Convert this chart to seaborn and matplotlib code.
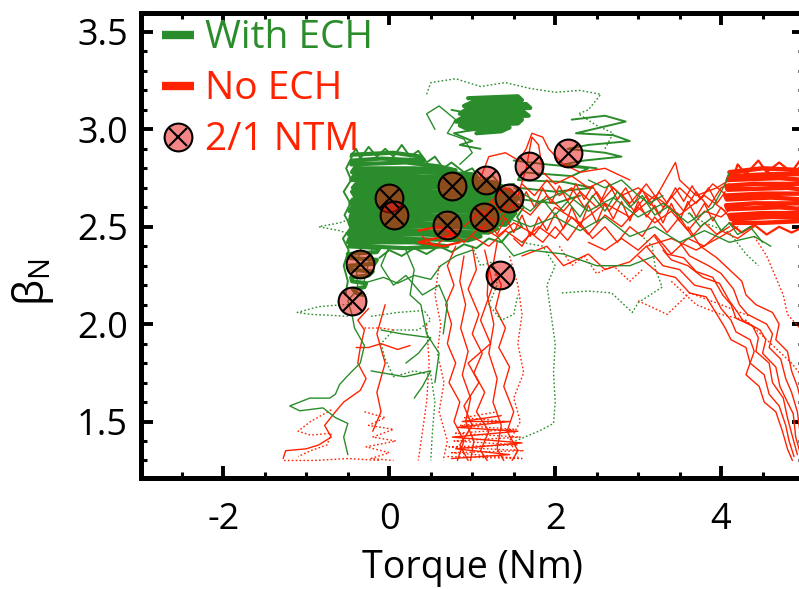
import matplotlib
matplotlib.use("Agg")
import matplotlib.pyplot as plt
from matplotlib.lines import Line2D
from matplotlib.ticker import MultipleLocator
import pandas as pd
import seaborn as sns

GREEN = "#2A8C2A"
RED = "#FF2200"

# ---------------- data ----------------
ntm_torque = [0.00, 0.06, 0.75, 0.70, 1.17, 1.14, 1.44, 1.68, 2.15, 1.34, -0.35, -0.45]
ntm_beta = [2.65, 2.56, 2.71, 2.51, 2.74, 2.55, 2.65, 2.81, 2.88, 2.25, 2.31, 2.12]

x_ticks = [-2, 0, 2, 4]
y_ticks = [1.5, 2.0, 2.5, 3.0, 3.5]

# dense "With ECH" regions
green_fill_main = [(-0.45, 2.87), (0.05, 2.88), (0.38, 2.86), (0.42, 2.84), (-0.10, 2.85), (-0.44, 2.84),
                   (-0.46, 2.82), (0.20, 2.83), (0.60, 2.81), (0.80, 2.79), (0.30, 2.80), (-0.42, 2.80),
                   (-0.45, 2.78), (0.40, 2.78), (1.00, 2.77), (1.05, 2.75), (0.20, 2.76), (-0.43, 2.76),
                   (-0.46, 2.74), (0.50, 2.74), (1.25, 2.73), (1.35, 2.71), (0.40, 2.72), (-0.40, 2.72),
                   (-0.44, 2.70), (0.60, 2.70), (1.45, 2.69), (1.50, 2.67), (0.30, 2.68), (-0.45, 2.68),
                   (-0.42, 2.66), (0.70, 2.66), (1.55, 2.65), (1.52, 2.63), (0.50, 2.64), (-0.44, 2.64),
                   (-0.47, 2.62), (0.40, 2.62), (1.55, 2.61), (1.50, 2.59), (0.20, 2.60), (-0.45, 2.60),
                   (-0.48, 2.58), (0.60, 2.58), (1.52, 2.57), (1.48, 2.55), (0.30, 2.56), (-0.46, 2.56),
                   (-0.47, 2.54), (0.50, 2.54), (1.45, 2.53), (1.40, 2.51), (0.20, 2.52), (-0.48, 2.52),
                   (-0.46, 2.50), (0.60, 2.50), (1.30, 2.49), (1.20, 2.47), (0.10, 2.48), (-0.47, 2.48),
                   (-0.49, 2.46), (0.40, 2.46), (1.10, 2.45), (0.95, 2.43), (0.00, 2.44), (-0.48, 2.44),
                   (-0.50, 2.42), (0.30, 2.42), (0.70, 2.40), (0.20, 2.39), (-0.30, 2.40), (-0.48, 2.40)]
green_fill_lobe = [(-0.48, 2.40), (-0.12, 2.39), (-0.15, 2.37), (-0.50, 2.36), (-0.49, 2.34), (-0.15, 2.33),
                   (-0.18, 2.31), (-0.48, 2.30), (-0.47, 2.28), (-0.20, 2.27), (-0.25, 2.25), (-0.46, 2.24),
                   (-0.45, 2.22), (-0.28, 2.21), (-0.30, 2.19), (-0.44, 2.18), (-0.40, 2.16), (-0.32, 2.15)]
green_fill_upper = [(0.95, 3.16), (1.55, 3.17), (1.60, 3.15), (1.00, 3.14), (0.90, 3.12), (1.65, 3.13),
                    (1.70, 3.11), (0.92, 3.10), (0.85, 3.08), (1.62, 3.09), (1.68, 3.07), (0.88, 3.06),
                    (0.80, 3.04), (1.60, 3.05), (1.55, 3.03), (0.85, 3.02), (0.95, 3.00), (1.45, 3.01),
                    (1.35, 2.99), (1.05, 2.98)]
# dense "No ECH" region on the right
red_fill_right = [(4.10, 2.78), (4.50, 2.80), (5.00, 2.79), (5.00, 2.77), (4.60, 2.77), (4.10, 2.76),
                  (4.08, 2.74), (4.70, 2.75), (5.00, 2.74), (5.00, 2.72), (4.40, 2.72), (4.06, 2.71),
                  (4.08, 2.69), (4.80, 2.70), (5.00, 2.69), (5.00, 2.67), (4.50, 2.67), (4.05, 2.66),
                  (4.07, 2.64), (4.60, 2.65), (5.00, 2.64), (5.00, 2.62), (4.40, 2.62), (4.06, 2.61),
                  (4.08, 2.59), (4.70, 2.60), (5.00, 2.59), (5.00, 2.57), (4.50, 2.57), (4.10, 2.56),
                  (4.12, 2.54), (4.60, 2.55), (5.00, 2.55), (5.00, 2.53), (4.50, 2.52), (4.15, 2.52)]

# medium-density traces
green_medium = [
    [(2.20, 3.05), (2.60, 3.07), (2.85, 3.04), (2.45, 3.00), (2.25, 2.98), (2.70, 2.97), (2.90, 2.94),
     (2.40, 2.92), (2.15, 2.90), (2.60, 2.88), (2.80, 2.86), (2.35, 2.84), (2.10, 2.82), (2.50, 2.80)],
    [(1.50, 2.84), (1.90, 2.82), (2.40, 2.80), (2.20, 2.76), (1.60, 2.78), (1.55, 2.74), (2.10, 2.73),
     (2.45, 2.70), (2.00, 2.68), (1.55, 2.70), (1.60, 2.64), (2.00, 2.62), (2.30, 2.66)],
    [(0.75, 3.10), (1.00, 3.08), (0.80, 3.04), (1.05, 3.00), (0.78, 2.98), (1.00, 2.94), (0.85, 2.92),
     (1.10, 2.90)],
    [(-0.47, 2.86), (-0.40, 2.90), (-0.35, 2.85), (-0.25, 2.91), (-0.15, 2.86), (-0.05, 2.90), (0.05, 2.86),
     (0.15, 2.92), (0.25, 2.86), (0.35, 2.89), (0.45, 2.83), (0.55, 2.86), (0.65, 2.80), (0.75, 2.83),
     (0.90, 2.78), (1.00, 2.80), (1.10, 2.74), (1.25, 2.76), (1.35, 2.71), (1.50, 2.72), (1.60, 2.66)],
    [(-0.45, 2.86), (-0.52, 2.80), (-0.46, 2.74), (-0.55, 2.68), (-0.47, 2.62), (-0.54, 2.56), (-0.46, 2.50),
     (-0.56, 2.44), (-0.49, 2.38), (-0.55, 2.30), (-0.50, 2.22), (-0.53, 2.15)],
    [(1.55, 2.66), (1.62, 2.60), (1.54, 2.55), (1.60, 2.50), (1.45, 2.47), (1.35, 2.42), (1.20, 2.44),
     (1.05, 2.39), (0.90, 2.41), (0.75, 2.37), (0.60, 2.40), (0.45, 2.36), (0.30, 2.39), (0.15, 2.35),
     (0.00, 2.38), (-0.12, 2.34)],
]
red_medium = [
    [(0.35, 2.48), (0.60, 2.50), (0.80, 2.46), (0.55, 2.44), (0.35, 2.42), (0.65, 2.40), (0.85, 2.42)],
    [(4.15, 2.76), (4.20, 2.82), (4.30, 2.77), (4.45, 2.84), (4.55, 2.78), (4.70, 2.83), (4.85, 2.78),
     (4.95, 2.84), (5.00, 2.78)],
    [(4.10, 2.52), (4.25, 2.47), (4.40, 2.51), (4.55, 2.46), (4.70, 2.50), (4.85, 2.47), (5.00, 2.50)],
]

# individual "With ECH" discharges
green_solid = [
    [(-0.30, 2.45), (-0.40, 2.30), (-0.38, 2.18), (-0.50, 2.12), (-0.45, 2.05), (-0.42, 1.98),
     (-0.30, 1.89), (-0.35, 1.80), (-0.48, 1.745), (-0.60, 1.69), (-0.65, 1.64), (-0.72, 1.62),
     (-0.96, 1.62), (-1.20, 1.58), (-1.08, 1.555), (-0.80, 1.57), (-0.65, 1.52), (-0.50, 1.49),
     (-0.55, 1.42), (-0.50, 1.33)],
    [(-0.20, 2.40), (-0.31, 2.21), (-0.07, 2.24), (0.10, 2.21), (0.30, 2.25), (0.50, 2.23), (0.62, 2.30),
     (0.80, 2.35), (1.00, 2.38)],
    [(0.20, 2.38), (0.30, 2.28), (0.25, 2.15), (0.38, 2.10), (0.45, 1.95), (0.60, 1.85), (0.55, 1.70)],
    [(1.30, 2.45), (1.50, 2.35), (1.70, 2.38), (2.10, 2.36), (2.50, 2.30), (2.90, 2.30), (3.20, 2.35)],
    [(0.55, 3.00), (0.45, 3.08), (0.60, 3.12), (0.80, 3.05), (0.70, 2.98), (0.90, 2.95), (1.00, 2.88),
     (0.85, 2.82)],
    [(1.50, 2.70), (1.80, 2.62), (2.10, 2.68), (2.40, 2.58), (2.70, 2.65), (3.00, 2.55), (3.30, 2.62),
     (3.60, 2.52), (3.90, 2.60), (4.05, 2.72), (4.10, 2.78)],
    [(1.40, 2.55), (1.70, 2.50), (2.00, 2.55), (2.30, 2.48), (2.60, 2.55), (2.90, 2.45), (3.20, 2.50),
     (3.50, 2.42), (3.80, 2.48), (4.10, 2.42), (4.40, 2.45), (4.60, 2.40)],
    [(0.00, 2.40), (-0.10, 2.30), (0.05, 2.20), (0.20, 2.25), (0.40, 2.15), (0.60, 2.20), (0.70, 2.10),
     (0.65, 1.95)],
    [(-0.10, 1.97), (0.15, 1.95), (0.50, 1.93), (0.35, 1.85), (0.20, 1.80)],
    [(-0.22, 1.76), (0.18, 1.73), (0.50, 1.76), (0.40, 1.68), (0.30, 1.62)],
    [(1.55, 2.62), (1.70, 2.58), (1.85, 2.64), (2.00, 2.56), (2.15, 2.63), (2.30, 2.55), (2.45, 2.66),
     (2.60, 2.58), (2.75, 2.68), (2.90, 2.60), (3.05, 2.66), (3.20, 2.56), (3.35, 2.60)],
    [(2.40, 2.74), (2.60, 2.70), (2.80, 2.74), (3.00, 2.66), (3.13, 2.62), (3.30, 2.66)],
    [(3.62, 2.57), (3.75, 2.50), (3.90, 2.55), (4.00, 2.48), (4.10, 2.52), (4.20, 2.46), (4.35, 2.50),
     (4.50, 2.42)],
]
green_dotted = [
    [(-0.45, 2.10), (-0.55, 2.10), (-0.85, 2.09), (-1.11, 2.06), (-0.95, 2.05), (-0.70, 2.045),
     (-0.50, 2.04)],
    [(-0.22, 2.04), (0.10, 2.06), (0.42, 2.07), (0.50, 2.02), (0.35, 1.97), (0.05, 1.97), (-0.10, 1.90),
     (-0.05, 1.82), (0.05, 1.73), (0.30, 1.76), (0.50, 1.74), (0.55, 1.60), (0.52, 1.45), (0.50, 1.30)],
    [(1.60, 2.42), (1.85, 2.40), (2.00, 2.30), (1.90, 2.20), (1.95, 2.05), (2.00, 1.90), (1.98, 1.75),
     (2.00, 1.60), (1.98, 1.49), (1.80, 1.45), (1.52, 1.40)],
    [(2.08, 2.16), (2.40, 2.17), (2.68, 2.16), (2.93, 2.06), (3.00, 2.11), (3.29, 2.19), (3.21, 2.28),
     (3.17, 2.40), (3.05, 2.45)],
    [(0.45, 3.18), (0.50, 3.24), (0.80, 3.26), (1.10, 3.22), (1.40, 3.24), (1.70, 3.21), (2.00, 3.19),
     (2.30, 3.20), (2.55, 3.18), (2.40, 3.10), (2.28, 3.08), (2.50, 3.02), (2.70, 2.98), (2.60, 2.90)],
    [(-0.40, 2.55), (-0.60, 2.52), (-0.85, 2.50), (-0.60, 2.48), (-0.40, 2.45)],
    [(1.00, 2.40), (1.10, 2.30), (1.25, 2.32), (1.30, 2.20), (1.20, 2.10), (1.35, 2.02), (1.50, 2.05),
     (1.55, 2.15)],
    [(3.60, 2.57), (3.80, 2.52), (4.10, 2.47), (4.30, 2.36), (4.45, 2.30)],
]

# individual "No ECH" discharges
red_solid = [
    [(3.30, 2.38), (3.40, 2.33), (3.60, 2.30), (3.78, 2.24), (3.98, 2.21), (4.10, 2.12), (4.20, 2.06),
     (4.26, 2.02), (4.47, 1.97), (4.54, 1.92), (4.50, 1.85), (4.66, 1.78), (4.71, 1.68), (4.80, 1.60),
     (4.87, 1.54), (4.90, 1.42), (4.98, 1.30)],
    [(3.20, 2.45), (3.35, 2.36), (3.55, 2.34), (3.70, 2.27), (3.90, 2.24), (4.02, 2.15), (4.12, 2.10),
     (4.18, 2.03), (4.38, 1.99), (4.45, 1.93), (4.42, 1.86), (4.58, 1.80), (4.62, 1.70), (4.75, 1.62),
     (4.80, 1.52), (4.85, 1.44), (4.92, 1.33)],
    [(3.50, 2.42), (3.62, 2.35), (3.85, 2.30), (4.00, 2.26), (4.15, 2.18), (4.22, 2.10), (4.32, 2.05),
     (4.55, 2.00), (4.62, 1.95), (4.58, 1.88), (4.72, 1.82), (4.78, 1.72), (4.85, 1.65), (4.92, 1.55),
     (4.95, 1.45), (5.00, 1.38)],
    [(3.10, 2.40), (3.30, 2.30), (3.50, 2.28), (3.68, 2.20), (3.88, 2.18), (4.00, 2.08), (4.12, 2.02),
     (4.18, 1.96), (4.35, 1.92), (4.40, 1.86), (4.35, 1.80), (4.52, 1.74), (4.58, 1.64), (4.70, 1.58),
     (4.78, 1.48), (4.82, 1.40), (4.88, 1.32)],
    [(3.60, 2.50), (3.75, 2.40), (3.95, 2.34), (4.10, 2.28), (4.25, 2.22), (4.30, 2.15), (4.42, 2.10),
     (4.62, 2.06), (4.70, 2.00), (4.66, 1.92), (4.80, 1.86), (4.85, 1.76), (4.92, 1.68), (4.98, 1.58)],
    [(3.00, 2.35), (3.25, 2.26), (3.45, 2.24), (3.62, 2.16), (3.82, 2.14), (3.95, 2.05), (4.05, 1.98),
     (4.12, 1.92), (4.30, 1.88), (4.35, 1.80), (4.30, 1.74), (4.46, 1.68), (4.52, 1.60), (4.66, 1.55),
     (4.74, 1.45), (4.80, 1.36), (4.86, 1.30)],
    [(0.90, 2.50), (1.10, 2.58), (1.30, 2.52), (1.50, 2.62), (1.70, 2.56), (1.90, 2.66), (2.10, 2.58),
     (2.30, 2.68), (2.50, 2.60), (2.70, 2.70), (2.90, 2.62), (3.10, 2.72), (3.30, 2.60), (3.50, 2.70),
     (3.70, 2.62), (3.90, 2.72), (4.10, 2.65)],
    [(1.00, 2.45), (1.20, 2.40), (1.40, 2.48), (1.60, 2.42), (1.80, 2.50), (2.00, 2.44), (2.20, 2.55),
     (2.40, 2.46), (2.60, 2.56), (2.80, 2.50), (3.00, 2.60), (3.20, 2.52), (3.40, 2.58), (3.60, 2.48),
     (3.80, 2.58), (4.00, 2.55), (4.20, 2.62)],
    [(1.20, 2.62), (1.40, 2.70), (1.55, 2.66), (1.65, 2.80), (1.72, 2.96), (1.80, 2.92), (1.85, 2.78),
     (2.00, 2.72), (2.20, 2.76), (2.40, 2.70), (2.60, 2.74), (2.80, 2.66), (3.00, 2.70), (3.20, 2.64),
     (3.45, 2.83), (3.50, 2.74), (3.70, 2.66), (3.95, 2.70), (4.10, 2.74)],
    [(0.40, 2.45), (0.55, 2.40), (0.75, 2.47), (0.90, 2.42), (1.10, 2.50), (1.30, 2.45), (1.50, 2.52),
     (1.75, 2.46), (2.00, 2.60), (2.30, 2.52), (2.60, 2.62), (2.90, 2.55), (3.20, 2.66), (3.50, 2.56),
     (3.80, 2.66), (4.05, 2.58)],
    [(1.60, 2.35), (1.90, 2.40), (2.10, 2.30), (2.40, 2.36), (2.60, 2.28), (2.90, 2.32), (3.10, 2.40),
     (3.40, 2.44), (3.70, 2.38), (4.00, 2.45), (4.20, 2.50)],
    [(1.10, 2.75), (1.20, 2.86), (1.40, 2.88), (1.56, 2.84), (1.65, 2.90), (1.72, 2.98), (1.85, 2.96),
     (1.92, 2.90), (2.10, 2.82), (2.30, 2.78), (2.60, 2.80), (2.90, 2.74)],
    [(1.05, 2.60), (1.15, 2.55), (1.25, 2.63), (1.35, 2.57), (1.45, 2.66), (1.55, 2.58), (1.65, 2.68),
     (1.75, 2.60), (1.85, 2.70), (1.95, 2.62), (2.05, 2.71), (2.15, 2.63), (2.25, 2.72), (2.35, 2.64),
     (2.45, 2.71), (2.55, 2.63), (2.65, 2.72), (2.75, 2.64), (2.85, 2.70), (2.95, 2.62), (3.05, 2.69),
     (3.15, 2.61), (3.25, 2.68), (3.35, 2.62), (3.45, 2.70), (3.55, 2.63), (3.65, 2.71), (3.75, 2.64),
     (3.85, 2.70), (3.95, 2.62), (4.05, 2.68)],
    [(1.10, 2.48), (1.20, 2.53), (1.30, 2.46), (1.40, 2.55), (1.50, 2.47), (1.60, 2.56), (1.70, 2.45),
     (1.80, 2.55), (1.90, 2.48), (2.00, 2.57), (2.10, 2.49), (2.20, 2.60), (2.30, 2.50), (2.40, 2.61),
     (2.50, 2.52), (2.60, 2.62), (2.70, 2.54), (2.80, 2.63), (2.90, 2.53), (3.00, 2.63), (3.10, 2.55),
     (3.20, 2.61), (3.30, 2.52), (3.40, 2.62), (3.50, 2.53), (3.60, 2.63), (3.70, 2.55), (3.80, 2.62),
     (3.90, 2.53), (4.00, 2.60), (4.10, 2.55)],
    [(1.50, 2.44), (1.60, 2.40), (1.70, 2.47), (1.85, 2.42), (2.00, 2.50), (2.15, 2.43), (2.30, 2.52),
     (2.45, 2.44), (2.60, 2.50), (2.75, 2.42), (2.90, 2.50), (3.05, 2.45), (3.20, 2.55), (3.35, 2.47),
     (3.50, 2.55), (3.65, 2.45), (3.80, 2.52), (3.95, 2.46), (4.10, 2.50)],
    [(1.60, 2.72), (1.75, 2.66), (1.90, 2.74), (2.05, 2.66), (2.20, 2.70), (2.35, 2.60), (2.50, 2.68),
     (2.65, 2.58), (2.80, 2.67), (2.95, 2.58), (3.10, 2.66), (3.25, 2.56), (3.40, 2.66), (3.55, 2.58),
     (3.70, 2.68), (3.85, 2.60), (4.00, 2.70), (4.10, 2.72)],
    [(2.40, 2.42), (2.60, 2.38), (2.80, 2.44), (3.00, 2.38), (3.20, 2.46), (3.40, 2.36), (3.60, 2.44),
     (3.80, 2.40), (4.00, 2.48), (4.20, 2.44), (4.40, 2.50)],
    [(0.80, 2.40), (0.70, 2.30), (0.78, 2.20), (0.68, 2.10), (0.75, 2.00), (0.70, 1.90), (0.80, 1.80),
     (0.72, 1.70), (0.85, 1.60), (0.78, 1.50), (0.90, 1.40), (0.82, 1.30)],
    [(1.00, 2.40), (1.05, 2.28), (0.95, 2.18), (1.08, 2.05), (1.00, 1.95), (1.12, 1.85), (1.02, 1.75),
     (1.15, 1.65), (1.05, 1.55), (1.20, 1.45), (1.10, 1.35), (1.18, 1.30)],
    [(1.30, 2.42), (1.25, 2.30), (1.35, 2.20), (1.28, 2.08), (1.40, 1.98), (1.32, 1.88), (1.45, 1.78),
     (1.38, 1.68), (1.50, 1.55), (1.42, 1.45), (1.55, 1.35), (1.48, 1.30)],
    [(1.15, 2.38), (1.25, 2.20), (1.10, 2.02), (1.22, 1.90), (0.95, 1.80), (1.08, 1.70), (0.90, 1.58),
     (1.00, 1.48), (0.85, 1.38), (0.95, 1.30)],
    [(0.90, 2.35), (0.85, 2.22), (0.92, 2.10), (0.86, 1.98), (0.95, 1.86), (0.88, 1.74), (0.98, 1.62),
     (0.92, 1.50), (1.02, 1.40), (0.98, 1.30)],
    [(1.20, 2.30), (1.18, 2.15), (1.26, 2.00), (1.20, 1.85), (1.30, 1.72), (1.25, 1.60), (1.35, 1.48),
     (1.30, 1.36), (1.38, 1.30)],
    [(0.75, 1.31), (1.45, 1.33), (0.80, 1.36), (1.60, 1.39), (0.76, 1.42), (1.55, 1.45), (0.82, 1.47),
     (1.45, 1.50), (0.88, 1.50), (1.35, 1.53)],
    [(-0.25, 2.08), (-0.38, 2.02), (-0.30, 1.97), (-0.35, 1.88), (-0.38, 1.80), (-0.28, 1.72),
     (-0.35, 1.66), (-0.55, 1.60), (-0.65, 1.55), (-0.78, 1.48), (-0.70, 1.42), (-0.85, 1.38),
     (-1.00, 1.36), (-1.25, 1.35), (-1.28, 1.31)],
    [(-0.05, 2.10), (-0.15, 1.95), (-0.05, 1.80), (-0.15, 1.65), (-0.10, 1.55), (-0.20, 1.45)],
    [(-0.40, 1.88), (-0.25, 1.88), (-0.10, 1.90), (0.10, 1.87), (0.25, 1.89)],
]
red_dotted = [
    [(3.40, 2.22), (3.70, 2.10), (4.00, 2.05), (4.30, 2.02), (4.60, 1.90), (4.85, 1.80), (5.00, 1.72)],
    [(4.40, 2.45), (4.55, 2.35), (4.65, 2.25), (4.75, 2.15), (4.80, 2.05), (4.95, 1.98)],
    [(3.00, 2.12), (3.35, 2.05), (3.62, 2.16), (4.00, 2.10), (4.35, 2.04)],
    [(2.05, 2.40), (2.20, 2.30), (2.35, 2.35), (2.50, 2.26), (2.70, 2.30), (2.90, 2.22), (3.05, 2.28)],
    [(0.60, 2.30), (0.55, 2.15), (0.62, 2.00), (0.58, 1.85), (0.66, 1.70), (0.60, 1.55), (0.70, 1.40),
     (0.65, 1.30)],
    [(1.45, 2.35), (1.55, 2.20), (1.60, 2.05), (1.55, 1.90), (1.62, 1.75), (1.50, 1.62), (1.58, 1.50),
     (1.45, 1.40), (1.55, 1.32)],
    [(0.70, 1.32), (1.60, 1.31), (0.75, 1.34), (1.62, 1.35), (0.72, 1.37), (1.55, 1.38), (0.78, 1.40),
     (1.58, 1.42), (0.80, 1.44), (1.50, 1.46), (0.85, 1.48), (1.40, 1.50), (0.90, 1.52), (1.30, 1.55)],
    [(0.45, 2.00), (0.48, 1.80), (0.45, 1.60), (0.40, 1.45), (0.35, 1.30)],
    [(-0.70, 1.56), (-0.95, 1.50), (-1.10, 1.45), (-0.95, 1.43), (-0.70, 1.44), (-0.75, 1.38),
     (-0.95, 1.35), (-1.10, 1.32)],
    [(-0.30, 1.55), (-0.05, 1.52), (-0.25, 1.48), (0.05, 1.46), (-0.20, 1.42), (0.08, 1.40),
     (-0.28, 1.37), (0.00, 1.34), (-0.22, 1.31), (0.05, 1.30)],
    [(-0.30, 1.98), (-0.10, 1.98), (0.05, 1.97)],
    [(-1.27, 1.30), (-0.90, 1.30), (-0.50, 1.31), (-0.10, 1.30)],
]


def paths_frame(paths, group, style, tag):
    rows = []
    for i, path in enumerate(paths):
        for j, (xv, yv) in enumerate(path):
            rows.append((xv, yv, f"{tag}-{i}", group, style, j))
    return pd.DataFrame(rows, columns=["torque", "beta", "shot", "group", "style", "order"])


palette = {"With ECH": GREEN, "No ECH": RED}
dash_map = {"solid": "", "dot": (1.2, 1.6)}


def draw(df, lw, ax):
    sns.lineplot(data=df, x="torque", y="beta", hue="group", style="style", units="shot",
                 estimator=None, sort=False, palette=palette, dashes=dash_map,
                 linewidth=lw, legend=False, ax=ax)


sns.set_theme(style="white")
plt.rcParams["font.family"] = ["Open Sans", "DejaVu Sans"]
plt.rcParams["mathtext.fontset"] = "custom"
plt.rcParams["mathtext.rm"] = "Open Sans"
plt.rcParams["mathtext.it"] = "Open Sans:italic"

fig = plt.figure(figsize=(7.99, 5.89), dpi=100)
L, R, T, B = 140.5, 804.0, 12.5, 478.0
ax = fig.add_axes([L / 799, 1 - B / 589, (R - L) / 799, (B - T) / 589])

# layers
draw(paths_frame([green_fill_main, green_fill_lobe, green_fill_upper], "With ECH", "solid", "gf"), 3.0, ax)
draw(paths_frame(green_medium, "With ECH", "solid", "gm"), 1.4, ax)
draw(paths_frame([red_fill_right], "No ECH", "solid", "rf"), 3.2, ax)
draw(paths_frame(red_solid, "No ECH", "solid", "rs"), 1.0, ax)
draw(paths_frame(red_dotted, "No ECH", "dot", "rd"), 1.0, ax)
draw(paths_frame(red_medium, "No ECH", "solid", "rm"), 1.6, ax)
draw(paths_frame(green_solid, "With ECH", "solid", "gs"), 1.0, ax)
draw(paths_frame(green_dotted, "With ECH", "dot", "gd"), 1.0, ax)

ntm = pd.DataFrame({"torque": ntm_torque, "beta": ntm_beta})
face = (0.93, 0.06, 0.06, 0.5)
sns.scatterplot(data=ntm, x="torque", y="beta", marker="o", s=400, color="black", ax=ax, zorder=5)
circ = ax.collections[-1]
circ.set_facecolor(face)
circ.set_edgecolor("black")
circ.set_linewidth(1.5)
sns.scatterplot(data=ntm, x="torque", y="beta", marker="x", s=190, color="black", linewidth=1.5,
                ax=ax, zorder=6)

ax.set_xlim(-3, 5)
ax.set_ylim(1.21, 3.6)
ax.set_xticks(x_ticks)
ax.set_xticklabels([str(v) for v in x_ticks])
ax.set_yticks(y_ticks)
ax.set_yticklabels([f"{v:.1f}" for v in y_ticks])
ax.xaxis.set_minor_locator(MultipleLocator(0.5))
ax.yaxis.set_minor_locator(MultipleLocator(0.1))
ax.tick_params(which="both", direction="in", top=True, right=True, bottom=True, left=True,
               color="black", labelsize=26, labelcolor="black")
ax.tick_params(which="major", length=8.5, width=2.8)
ax.tick_params(which="minor", length=4.5, width=2.2)
ax.tick_params(axis="y", which="major", pad=9)
ax.tick_params(axis="x", which="major", pad=17)
for sp in ax.spines.values():
    sp.set_color("black")
    sp.set_linewidth(3.6)
    sp.set_visible(True)

ax.set_xlabel("Torque (Nm)", fontsize=27, color="black")
ax.set_ylabel(r"$\mathregular{\beta_N}$", fontsize=30, color="black")
ax.xaxis.set_label_coords(0.5, -0.153)
ax.yaxis.set_label_coords(-0.128, 0.42)

h_with = Line2D([], [], color=GREEN, lw=6, solid_capstyle="butt")
h_no = Line2D([], [], color=RED, lw=6, solid_capstyle="butt")
h_circ = Line2D([], [], ls="none", marker="o", ms=20, mfc=face, mec="black", mew=1.5)
h_x = Line2D([], [], ls="none", marker="x", ms=13.5, mec="black", mew=1.5)
ax.legend([h_with, h_no, (h_circ, h_x)], ["With ECH", "No ECH", "2/1 NTM"],
          loc="upper left", bbox_to_anchor=(0.033, 0.985), frameon=False, fontsize=28,
          handlelength=0.8, handletextpad=0.3, labelspacing=0.33, borderaxespad=0.0, borderpad=0.0,
          labelcolor=[GREEN, RED, RED])

fig.savefig("out.png", dpi=100)
